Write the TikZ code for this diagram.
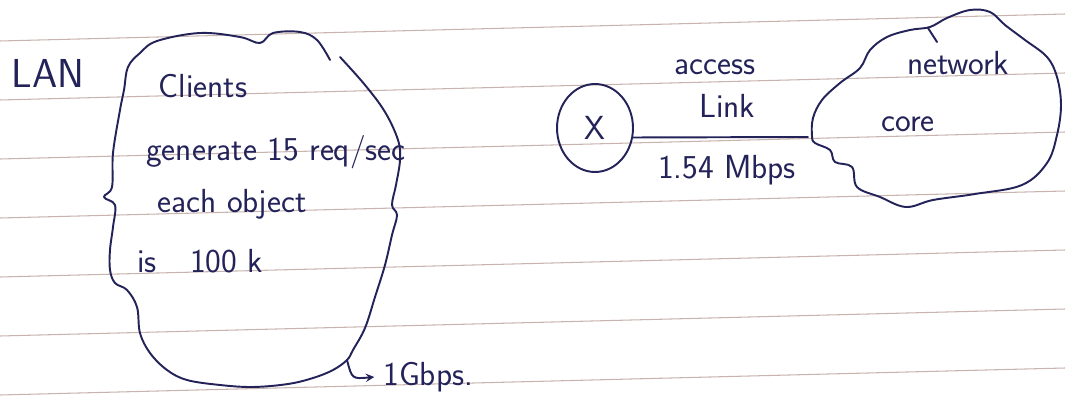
\documentclass[tikz,border=0pt]{standalone}
\usetikzlibrary{shapes.geometric}
\definecolor{ink}{RGB}{35,35,90}
\definecolor{paperrule}{RGB}{200,180,175}
\begin{document}
\begin{tikzpicture}[x=0.02cm, y=-0.02cm, line join=round, line cap=round, >=stealth,
	hand/.style={font=\sffamily\fontsize{19}{22}\selectfont, text=ink, inner sep=0pt},
	pen/.style={draw=ink, line width=1.1pt}]
	\useasboundingbox (0,0) rectangle (1065,405);
	\fill[white] (0,0) rectangle (1065,405);
	\foreach \i in {0,...,6}
		\draw[paperrule, line width=.6pt] (0,41+59*\i) -- (1065,14+59*\i);
	\draw[pen] plot[smooth, tension=.6] coordinates {(340,57) (365,85) (385,112) (398,140) (400,160) (396,185) (392,205) (397,215) (392,235) (385,265) (375,297) (365,328) (353,350) (347,360) (333,370) (313,378) (288,384) (253,387) (220,385) (187,380) (167,370) (150,353) (140,333) (137,307) (127,290) (115,283) (110,270) (110,250) (113,227) (115,205) (104,197) (112,187) (113,153) (120,110) (124,90) (128,67) (140,53) (157,41) (200,33) (240,37) (260,43) (273,33) (300,32) (317,40) (330,60)};
	\coordinate (lanhook) at (347,360);
	\draw[pen] plot[smooth cycle, tension=.6] coordinates {(812,136) (813,118) (822,100) (840,83) (860,68) (870,50) (887,37) (910,30) (930,27) (947,18) (970,10) (990,12) (1005,25) (1025,40) (1047,57) (1057,77) (1061,105) (1057,135) (1047,163) (1022,185) (975,194) (933,200) (906,207) (880,197) (857,187) (852,167) (835,162) (830,150) (815,143)};
	\draw[pen] (928,28) -- (937,42);
	\coordinate (netL) at (808,137);
	\node[hand, font=\sffamily\fontsize{23}{27}\selectfont] (lan) at (48,73) {LAN};
	\node[hand] (clients) at (203,86) {Clients};
	\node[hand] (gen) at (276,152) {generate 15 req/sec};
	\node[hand] (obj) at (232,204) {each object};
	\node[hand] (size) at (200,261) {is\quad 100 k};
	\node[hand, anchor=west] (gbps) at (383,377) {1Gbps.};
	\draw[pen, ->] (lanhook) .. controls (352,379) .. ([xshift=-5pt]gbps.west);
	\node[pen, ellipse, minimum width=1.52cm, minimum height=1.76cm, hand] (x) at (595,128) {X};
	\draw[pen] (x.-14) -- (netL);
	\node[hand] (access) at (715,67) {access};
	\node[hand] (link) at (727,106) {Link};
	\node[hand] (rate) at (727,170) {1.54 Mbps};
	\node[hand] (net) at (958,63) {network};
	\node[hand] (core) at (908,124) {core};
\end{tikzpicture}
\end{document}
